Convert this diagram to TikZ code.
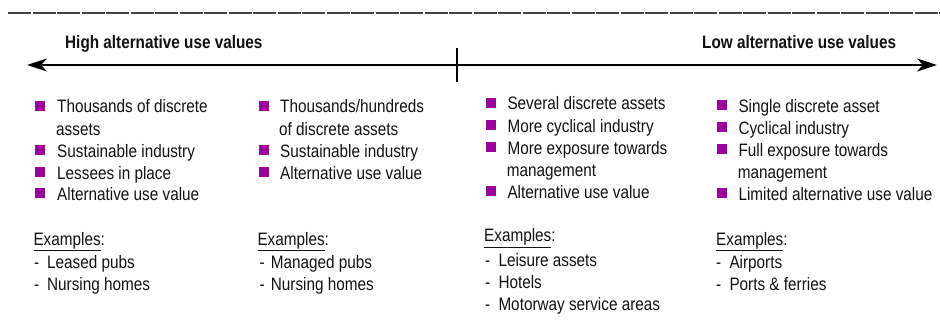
\documentclass[tikz,border=0pt]{standalone}
\usepackage{fontspec}
\setmainfont{Liberation Sans}[FakeStretch=0.85]
\usetikzlibrary{arrows.meta}
\definecolor{bul}{HTML}{990099}
\definecolor{ink}{HTML}{111111}
\definecolor{rulec}{HTML}{444444}
\begin{document}
\begin{tikzpicture}[x=1pt,y=-1pt,
  txt/.style={anchor=base west,inner sep=0pt,text=ink,font=\fontsize{18}{22}\selectfont},
  hdr/.style={txt,font=\fontsize{18}{22}\selectfont\bfseries},
  bsq/.style={fill=bul,draw=none,minimum size=10pt,inner sep=0pt},
  axis/.style={line width=1.8pt,draw=black,{Stealth[length=20pt,width=13pt,inset=6pt]}-{Stealth[length=20pt,width=13pt,inset=6pt]}}
]
\useasboundingbox (0,0) rectangle (940,329);
% top dashed rule
\coordinate (tl) at (8,13);
\coordinate (tr) at (940,13);
\draw[rulec,line width=1.5pt,dash pattern=on 23pt off 1.5pt] (tl) -- (tr);
% axis
\coordinate (al) at (27,65);
\coordinate (ar) at (937,65);
\draw[axis] (al) -- (ar);
\coordinate (tkt) at (457,48);
\coordinate (tkb) at (457,82);
\draw[line width=1.5pt] (tkt) -- (tkb);
\node[hdr] (hhigh) at (65,49) {High alternative use values};
\node[hdr] (hlow) at (702,49) {Low alternative use values};
% column 1
\node[bsq] (b1a) at (40,105.5) {};
\node[txt] (t1a) at (57,113) {Thousands of discrete};
\node[txt] (t1a2) at (56,135) {assets};
\node[bsq] (b1b) at (40,149.5) {};
\node[txt] (t1b) at (57,157) {Sustainable industry};
\node[bsq] (b1c) at (40,171.5) {};
\node[txt] (t1c) at (57,179) {Lessees in place};
\node[bsq] (b1d) at (40,192.5) {};
\node[txt] (t1d) at (57,200) {Alternative use value};
\node[txt] (e1) at (33.3,245) {\underline{Examples}:};
\node[txt] (e1a) at (34,268) {\makebox[13pt][l]{-}Leased pubs};
\node[txt] (e1b) at (34,290) {\makebox[13pt][l]{-}Nursing homes};
% column 2
\node[bsq] (b2a) at (264.3,105.5) {};
\node[txt] (t2a) at (280,113) {Thousands/hundreds};
\node[txt] (t2a2) at (279,135) {of discrete assets};
\node[bsq] (b2b) at (264.3,149.5) {};
\node[txt] (t2b) at (280,157) {Sustainable industry};
\node[bsq] (b2c) at (264.3,171.5) {};
\node[txt] (t2c) at (280,179) {Alternative use value};
\node[txt] (e2) at (257.3,245) {\underline{Examples}:};
\node[txt] (e2a) at (259.3,268) {\makebox[11.4pt][l]{-}Managed pubs};
\node[txt] (e2b) at (259.3,290) {\makebox[11.4pt][l]{-}Nursing homes};
% column 3
\node[bsq] (b3a) at (491,102.5) {};
\node[txt] (t3a) at (507.3,110) {Several discrete assets};
\node[bsq] (b3b) at (491,124.5) {};
\node[txt] (t3b) at (507.3,132) {More cyclical industry};
\node[bsq] (b3c) at (491,146.5) {};
\node[txt] (t3c) at (507.3,154) {More exposure towards};
\node[txt] (t3c2) at (506.7,176) {management};
\node[bsq] (b3d) at (491,190.5) {};
\node[txt] (t3d) at (507.3,198) {Alternative use value};
\node[txt] (e3) at (484,241.7) {\underline{Examples}:};
\node[txt] (e3a) at (485,266.7) {\makebox[13.3pt][l]{-}Leisure assets};
\node[txt] (e3b) at (485,288) {\makebox[13.3pt][l]{-}Hotels};
\node[txt] (e3c) at (485,310) {\makebox[13.3pt][l]{-}Motorway service areas};
% column 4
\node[bsq] (b4a) at (722,104.5) {};
\node[txt] (t4a) at (738.3,112) {Single discrete asset};
\node[bsq] (b4b) at (722,126.5) {};
\node[txt] (t4b) at (738.3,134) {Cyclical industry};
\node[bsq] (b4c) at (722,148.5) {};
\node[txt] (t4c) at (738.3,156) {Full exposure towards};
\node[txt] (t4c2) at (737.7,178) {management};
\node[bsq] (b4d) at (722,192.5) {};
\node[txt] (t4d) at (738.3,200) {Limited alternative use value};
\node[txt] (e4) at (716,245) {\underline{Examples}:};
\node[txt] (e4a) at (716,268) {\makebox[13.3pt][l]{-}Airports};
\node[txt] (e4b) at (716,290) {\makebox[13.3pt][l]{-}Ports \& ferries};
\end{tikzpicture}
\end{document}
